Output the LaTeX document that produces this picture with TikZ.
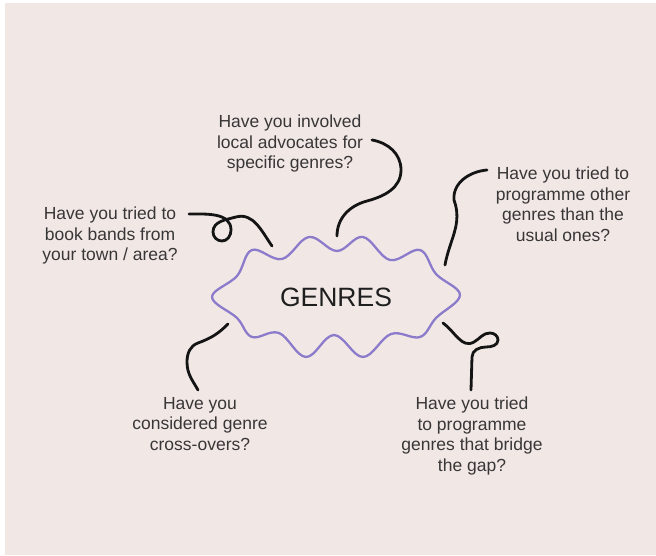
\documentclass[tikz,border=0pt]{standalone}
\usepackage{fontspec}
\setmainfont{Liberation Sans}
\usepackage{xcolor}
\usepackage{tikz}
\definecolor{paper}{RGB}{241,232,230}
\definecolor{lilac}{RGB}{140,122,202}
\definecolor{ink}{RGB}{56,54,54}
\newcommand{\qfont}{\fontsize{17.5}{20.5}\selectfont}
\newcommand{\tfont}{\fontsize{26.5}{30}\selectfont}

\begin{document}
\begin{tikzpicture}[x=1pt, y=1pt,
    question/.style={anchor=north, align=center, inner sep=0pt, text=ink, font=\qfont},
    squiggle/.style={line width=2.8pt, line cap=round, line join=round, black!92}]
    % --- the card: thin white margin left and top, pink everywhere else ---
    \useasboundingbox (0,0) rectangle (656,556);
    \fill[white] (0,0) rectangle (656,556);
    \fill[paper] (5,1) rectangle (656,553);

    % --- wavy cloud round the title, peaks and dips alternate ---
    \draw[lilac, line width=2.3pt]
      plot[smooth cycle, tension=0.62] coordinates {
        (460,261) (436,282) (420,306) (390,296) (363,319) (337,305)
        (309,319) (282,297) (252,306) (237,280) (212,259) (237,238)
        (252,219) (279,223) (306,199) (334,221) (363,199) (391,222)
        (420,219) (436,238)};
    \node[inner sep=0pt, font=\tfont, text=black!88] (genres) at (336,259) {GENRES};

    % --- the five questions round it ---
    \foreach \name/\x/\y/\txt in {%
        qlocal/290/441/{Have you involved\\local advocates for\\specific genres?},
        qbook/110/349/{Have you tried to\\book bands from\\your town / area?},
        qother/563/389/{Have you tried to\\programme other\\genres than the\\usual ones?},
        qcross/200/159/{Have you\\considered genre\\cross-overs?},
        qbridge/472/159/{Have you tried\\to programme\\genres that bridge\\the gap?}}
      \node[question] (\name) at (\x,\y) {\txt};

    % --- loose ends of the hand-drawn leads ---
    \coordinate (localtip)  at (372,416);  \coordinate (localend)  at (337,320);
    \coordinate (booktip)   at (189,342);  \coordinate (bookend)   at (272,310);
    \coordinate (othertip)  at (487,386);  \coordinate (otherend)  at (445,291);
    \coordinate (crosstip)  at (198,166);  \coordinate (crossend)  at (228,232);
    \coordinate (bridgetip) at (471,166);  \coordinate (bridgeend) at (443,233);

    % top: S-bend down to the middle dip
    \draw[squiggle] (localtip) to[out=-10, in=90] (401,386)
      to[out=-90, in=15] (367,355) to[out=195, in=90] (localend);
    % left: runs right, small loop, then down to the cloud
    \draw[squiggle] (booktip) to[out=0, in=90] (231,326)
      to[out=-90, in=0] (222,315) to[out=180, in=-90] (213,324)
      to[out=90, in=195] (236,339) to[out=15, in=125] (bookend);
    % right: hook then a long S
    \draw[squiggle] (othertip) to[out=185, in=95] (454,356)
      to[out=-70, in=80] (otherend);
    % bottom left
    \draw[squiggle] (crossend) to[out=225, in=20] (198,213)
      to[out=200, in=90] (187,194) to[out=-90, in=120] (crosstip);
    % bottom right: loop on top of a straight stem
    \draw[squiggle] (bridgeend) to[out=-35, in=210] (474,214)
      to[out=30, in=180] (490,223) to[out=0, in=90] (498,216)
      to[out=-90, in=0] (486,209) to[out=180, in=90] (472,199)
      -- (bridgetip);
\end{tikzpicture}
\end{document}
